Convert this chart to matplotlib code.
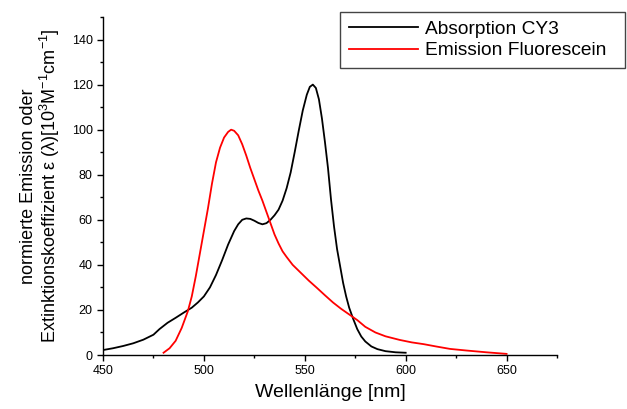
import numpy as np
import matplotlib
matplotlib.use("Agg")
import matplotlib.pyplot as plt
from matplotlib.ticker import MultipleLocator
from matplotlib.legend_handler import HandlerLine2D

plt.rcParams['font.family'] = ['Liberation Sans', 'DejaVu Sans']
plt.rcParams['mathtext.fontset'] = 'custom'
plt.rcParams['mathtext.rm'] = 'Liberation Sans'
plt.rcParams['mathtext.it'] = 'Liberation Sans'

# Absorption CY3 (black)
abs_nm = [450, 455, 460, 465, 470, 475, 478, 482, 486, 490, 494, 497, 500, 503,
          506, 509, 512, 515, 517, 519, 521, 523, 525, 527, 529, 531, 533, 535,
          537, 539, 541, 543, 545, 547, 549, 551, 552.5, 554, 555.5, 557, 558.5,
          560, 561.5, 563, 564.5, 566, 567.5, 569, 570.5, 572, 574, 576, 578,
          580, 583, 586, 590, 595, 600]
abs_val = [2.2, 3.0, 4.0, 5.2, 6.8, 9.0, 11.5, 14.3, 16.5, 18.8, 21.0, 23.3, 26.0, 30.0,
           35.5, 42.0, 49.0, 55.0, 58.0, 60.0, 60.6, 60.4, 59.6, 58.6, 58.0, 58.5, 60.0, 62.0,
           64.5, 68.5, 74.0, 81.0, 90.0, 99.5, 108.5, 115.5, 119.0, 120.0, 118.5, 113.5, 105.0,
           94.5, 83.0, 69.0, 57.0, 47.0, 39.5, 32.0, 26.0, 21.0, 16.0, 11.5, 8.2,
           6.0, 3.8, 2.6, 1.7, 1.2, 1.0]

# Emission Fluorescein (red)
em_nm = [480, 483, 486, 489, 492, 494, 496, 498, 500, 502, 504, 506, 508, 510, 512,
         513.5, 515, 517, 519, 521, 523, 525, 527, 529, 531, 533, 535, 537, 539, 541,
         544, 548, 552, 556, 560, 564, 568, 572, 576, 580, 585, 590, 597, 603, 609,
         615, 622, 630, 640, 650]
em_val = [1.0, 3.0, 6.3, 12.0, 19.3, 26.0, 35.0, 45.0, 55.0, 65.0, 76.0, 85.5, 92.0, 96.5, 99.0,
          100.0, 99.5, 97.5, 93.5, 88.5, 83.0, 78.0, 73.0, 68.5, 63.5, 58.5, 53.5, 49.5, 46.0, 43.5,
          40.0, 36.5, 33.0, 29.8, 26.5, 23.3, 20.5, 18.0, 15.5, 12.5, 10.0, 8.3, 6.7, 5.6, 4.8,
          3.8, 2.7, 2.0, 1.2, 0.5]

x_ticks = [450, 500, 550, 600, 650]
y_ticks = [0, 20, 40, 60, 80, 100, 120, 140]


class ShiftedLine(HandlerLine2D):
    # legend line starts a bit right of the frame, like in the original
    def create_artists(self, legend, orig_handle, xdescent, ydescent,
                       width, height, fontsize, trans):
        arts = super().create_artists(legend, orig_handle, xdescent, ydescent,
                                      width, height, fontsize, trans)
        for a in arts:
            xd = np.asarray(a.get_xdata(), dtype=float)
            if len(xd) == 2:
                a.set_xdata([xd[0] + 0.27 * width, xd[1]])
        return arts


fig = plt.figure(figsize=(6.27, 4.09), dpi=100)
ax = fig.add_axes([103/627, 1 - 355/409, 454/627, 338/409])

l1, = ax.plot(abs_nm, abs_val, color='black', lw=1.3, label='Absorption CY3')
l2, = ax.plot(em_nm, em_val, color='red', lw=1.3, label='Emission Fluorescein')

ax.set_xlim(450, 675)
ax.set_ylim(0, 150)
ax.set_xticks(x_ticks)
ax.set_yticks(y_ticks)
ax.xaxis.set_minor_locator(MultipleLocator(25))
ax.yaxis.set_minor_locator(MultipleLocator(10))
ax.tick_params(which='major', direction='out', length=4.5, width=1, labelsize=9, pad=3)
ax.tick_params(which='minor', direction='out', length=2.5, width=1)
for s in ['top', 'right']:
    ax.spines[s].set_visible(False)
for s in ['left', 'bottom']:
    ax.spines[s].set_linewidth(1)

ax.set_xlabel('Wellenlänge [nm]', fontsize=14, labelpad=5)
ax.set_ylabel('normierte Emission oder\nExtinktionskoeffizient ε (λ)[10$^3$M$^{-1}$cm$^{-1}$]',
              fontsize=13, labelpad=7, linespacing=1.05)

leg = ax.legend(handles=[l1, l2], loc='upper left',
                bbox_to_anchor=(340/627, 1 - 74/409, 285/627, 62/409),
                bbox_transform=fig.transFigure, mode='expand', borderaxespad=0,
                fontsize=13.8, handlelength=3.6, handletextpad=0.36,
                fancybox=False, framealpha=1, edgecolor='#444444',
                borderpad=0.45, labelspacing=0.2,
                handler_map={l1: ShiftedLine(), l2: ShiftedLine()})
leg.get_frame().set_linewidth(1)

fig.savefig('out.png', dpi=100)
